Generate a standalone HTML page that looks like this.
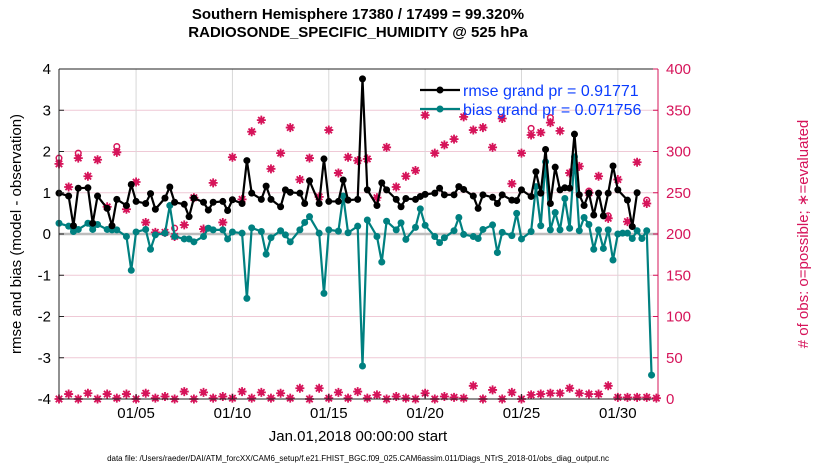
<!DOCTYPE html>
<html><head><meta charset="utf-8">
<style>
html,body{margin:0;padding:0;background:#fff;}
svg{display:block;font-family:"Liberation Sans",Arial,sans-serif;}
</style></head>
<body>
<svg id="chart" width="830" height="470" xmlns="http://www.w3.org/2000/svg">
<text x="358" y="19" text-anchor="middle" font-size="15" font-weight="bold">Southern Hemisphere 17380 / 17499 = 99.320%</text>
<text x="358" y="37" text-anchor="middle" font-size="15" font-weight="bold">RADIOSONDE_SPECIFIC_HUMIDITY @ 525 hPa</text>
<text transform="translate(21,234) rotate(-90)" text-anchor="middle" font-size="15">rmse and bias (model - observation)</text>
<text transform="translate(808,234) rotate(-90)" text-anchor="middle" font-size="15" fill="#d6145a"># of obs: o=possible; ∗=evaluated</text>
<text x="358" y="441" text-anchor="middle" font-size="15">Jan.01,2018 00:00:00 start</text>
<text x="358" y="461" text-anchor="middle" font-size="8">data file: /Users/raeder/DAI/ATM_forcXX/CAM6_setup/f.e21.FHIST_BGC.f09_025.CAM6assim.011/Diags_NTrS_2018-01/obs_diag_output.nc</text>
<g id="grid"></g>
<g id="marks"></g>
<g id="axes"></g>
<g id="legend"></g>
</svg>
<script>
const N=null;
const rmseVals=[0.99,N,0.92,0.20,1.11,N,1.12,0.26,0.92,N,0.62,0.20,0.84,N,0.69,1.20,0.79,N,0.74,0.98,0.60,N,0.87,1.14,0.77,N,0.72,0.42,0.87,N,0.77,0.58,0.77,N,0.79,0.57,0.83,N,0.74,1.78,0.99,N,0.84,1.16,0.84,N,0.66,1.07,1.01,N,0.99,0.74,1.29,N,0.74,1.82,0.79,N,0.79,1.31,0.82,N,0.84,3.76,1.07,N,0.69,1.24,1.07,N,0.84,0.66,0.86,N,0.84,0.91,0.96,N,0.99,1.11,0.95,N,0.95,1.15,1.08,N,0.92,0.62,0.95,N,0.89,0.74,0.95,N,0.82,0.81,1.07,N,0.91,1.51,0.99,2.05,0.74,1.62,1.07,1.12,1.11,2.42,0.95,0.69,0.99,0.46,0.99,0.44,0.99,1.65,1.07,N,0.82,0.18,1.00,N,N,N];
const biasVals=[0.26,N,0.19,0.06,0.11,N,0.26,0.11,0.23,N,0.11,0.10,0.10,N,-0.06,-0.88,0.05,N,0.11,-0.37,-0.02,N,0.02,0.69,-0.06,N,-0.12,-0.12,-0.19,N,-0.06,0.14,0.10,N,0.10,-0.12,0.05,N,0.02,-1.56,0.15,N,0.06,-0.49,-0.09,N,0.08,-0.02,-0.19,N,0.10,0.28,0.42,N,0.02,-1.44,0.10,N,0.07,0.92,0.03,N,0.19,-3.2,0.34,N,-0.06,-0.68,0.31,N,0.10,0.27,-0.13,N,0.16,0.61,0.21,N,-0.06,-0.21,-0.09,N,0.08,0.40,-0.01,N,-0.06,-0.11,0.11,N,0.22,-0.45,0.04,N,-0.04,0.50,-0.12,N,0.06,1.15,0.20,1.75,0.10,0.52,0.10,0.86,0.14,1.87,0.08,0.40,0.23,-0.37,0.10,-0.35,0.10,-0.63,0.00,0.02,0.02,-0.11,0.08,-0.11,0.08,-3.42];
const evalTop=[285,257,292,270,290,233,299,230,263,214,202,202,197,211,244,206,262,214,293,242,324,338,279,298,329,266,292,245,326,274,293,289,291,244,305,257,270,277,344,298,308,315,342,326,329,305,340,261,298,320,323,335,325,274,282,250,270,219,266,215,287,237];
const possTop=[292,257,298,270,290,233,306,230,263,214,202,202,207,211,244,206,262,214,293,242,324,338,279,298,329,266,292,245,326,274,293,289,291,244,305,257,270,277,344,298,308,315,342,326,329,305,340,261,298,328,323,341,325,274,282,252,270,222,266,215,287,241];
const evalBottom=[0,6,0,7,0,6,1,6,0,7,1,3,0,9,0,8,1,3,1,9,1,8,1,7,1,13,0,13,1,8,1,9,1,5,0,3,1,0,7,0,3,2,1,16,0,11,0,8,0,5,6,7,7,13,7,6,6,16,2,2,2,2,1];
const leftTicks=[4,3,2,1,0,-1,-2,-3,-4];
const rightTicks=[0,50,100,150,200,250,300,350,400];
const dateTicks=[4,9,14,19,24,29];
const dateLabels=["01/05","01/10","01/15","01/20","01/25","01/30"];

const X0=59,X1=658,Y0=69,Y1=399,DAY=19.27;
const PINK="#d6145a",TEAL="#008080";
const xs=t=>X0+t*DAY;
const yL=v=>234-v*41.25;
const yR=c=>Y1-c*(Y1-Y0)/400;
const NS="http://www.w3.org/2000/svg";
function mk(tag,attrs,parent){const e=document.createElementNS(NS,tag);for(const k in attrs)e.setAttribute(k,attrs[k]);parent.appendChild(e);return e;}
const grid=document.getElementById('grid'),marks=document.getElementById('marks'),axes=document.getElementById('axes'),legend=document.getElementById('legend');

rightTicks.forEach(c=>{const l=mk('line',{x1:X0,x2:X1,y1:yR(c),y2:yR(c),stroke:'#efc9d6','stroke-width':1},grid);

});
dateTicks.forEach(d=>{const l=mk('line',{x1:xs(d),x2:xs(d),y1:Y0,y2:Y1,stroke:'#d8d8d8','stroke-width':1},grid);

});
const zl=mk('line',{x1:X0,x2:X1,y1:yL(0),y2:yL(0),stroke:'#bdbdbd','stroke-width':2.5},grid);



function star(cx,cy,filled,name){
  const g=mk('g',{},marks);
  
  
  if(filled){
    mk('circle',{cx:cx,cy:cy,r:2.8,fill:PINK},g);
    mk('path',{d:`M${cx-4.5} ${cy}H${cx+4.5}M${cx} ${cy-4.5}V${cy+4.5}M${cx-3.2} ${cy-3.2}L${cx+3.2} ${cy+3.2}M${cx-3.2} ${cy+3.2}L${cx+3.2} ${cy-3.2}`,stroke:PINK,'stroke-width':1.8},g);
  } else {
    mk('circle',{cx:cx,cy:cy,r:2.8,fill:'none',stroke:PINK,'stroke-width':1.5},g);
  }
}
possTop.forEach((c,k)=>{if(c!==evalTop[k])star(xs(k*0.5),yR(c),false,'possible-marker');});
evalTop.forEach((c,k)=>star(xs(k*0.5),yR(c),true,'evaluated-marker'));
evalBottom.forEach((c,k)=>star(xs(k*0.5),yR(c),true,'evaluated-marker-low'));

function series(vals,color,name){
  let pts=[];vals.forEach((v,i)=>{if(v!==null)pts.push([xs(i*0.25),yL(v)]);});
  const p=mk('polyline',{points:pts.map(p=>p.join(',')).join(' '),fill:'none',stroke:color,'stroke-width':2.2,'stroke-linejoin':'round'},marks);
  
  
  pts.forEach(q=>{const c=mk('circle',{cx:q[0],cy:q[1],r:3.5,fill:color},marks);
  
  });
}
series(biasVals,TEAL,'bias');
series(rmseVals,'#000','rmse');

mk('line',{x1:X0,x2:X1,y1:Y0,y2:Y0,stroke:'#222'},axes);
mk('line',{x1:X0,x2:X1,y1:Y1,y2:Y1,stroke:'#222'},axes);
mk('line',{x1:X0,x2:X0,y1:Y0,y2:Y1,stroke:'#222'},axes);
mk('line',{x1:X1,x2:X1,y1:Y0,y2:Y1,stroke:PINK},axes);
leftTicks.forEach(v=>{mk('line',{x1:X0,x2:X0+5,y1:yL(v),y2:yL(v),stroke:'#222'},axes);
const t=mk('text',{x:X0-8,y:yL(v)+5,'text-anchor':'end','font-size':15},axes);t.textContent=v;

});
rightTicks.forEach(c=>{mk('line',{x1:X1-5,x2:X1,y1:yR(c),y2:yR(c),stroke:PINK},axes);
const t=mk('text',{x:X1+8,y:yR(c)+5,'font-size':15,fill:PINK},axes);t.textContent=c;

});
dateTicks.forEach((d,k)=>{mk('line',{x1:xs(d),x2:xs(d),y1:Y1-5,y2:Y1,stroke:'#222'},axes);
const t=mk('text',{x:xs(d),y:Y1+19,'text-anchor':'middle','font-size':15},axes);t.textContent=dateLabels[k];

});

[['rmse grand pr = 0.91771','#000',90],['bias grand pr = 0.071756',TEAL,109]].forEach(([s,c,y])=>{
  const g=mk('g',{},legend);
  
  
  mk('line',{x1:420,x2:460,y1:y,y2:y,stroke:c,'stroke-width':2.2},g);
  mk('circle',{cx:440,cy:y,r:3.5,fill:c},g);
  const t=mk('text',{x:463,y:y+6,'font-size':16,fill:'#0a3cff'},g);t.textContent=s;
});
</script>
</body></html>
